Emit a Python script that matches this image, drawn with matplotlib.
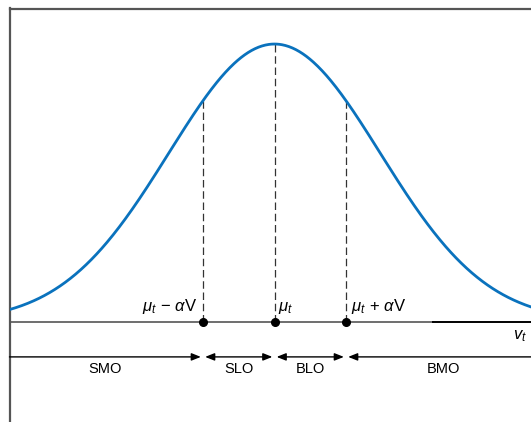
import numpy as np
import matplotlib
matplotlib.use("Agg")
import matplotlib.pyplot as plt

# distribution of v_t (units: alphaV = 1)
mu = 0.0
sigma = 1.48
alpha_v = 1.0
marks = [mu - alpha_v, mu, mu + alpha_v]
mark_labels = [r'$\mu_t\,-\,\alpha\mathrm{V}$', r'$\mu_t$', r'$\mu_t\,+\,\alpha\mathrm{V}$']
regions = ['SMO', 'SLO', 'BLO', 'BMO']

plt.rcParams['font.family'] = ['Liberation Sans', 'DejaVu Sans']
plt.rcParams['mathtext.fontset'] = 'custom'
plt.rcParams['mathtext.rm'] = 'Liberation Sans'
plt.rcParams['mathtext.it'] = 'Liberation Sans:italic'

fig = plt.figure(figsize=(5.31, 4.22), dpi=100)
ax = fig.add_axes([9.5 / 531, 0, 1 - 9.5 / 531, (422 - 8.5) / 422])

xmin, xmax = -3.706, 3.587
ax.set_xlim(xmin, xmax)
ax.set_ylim(-0.3615, 1.128)

x = np.linspace(xmin, xmax, 600)
pdf = lambda v: np.exp(-(v - mu) ** 2 / (2 * sigma ** 2))
ax.plot(x, pdf(x), color='#0a72bd', lw=2.0, zorder=3)

# baseline axis: gray part then black
split = (433 - 274.5) / 71.5
ax.plot([xmin, split], [0, 0], color='#555555', lw=1.2, zorder=2)
ax.plot([split, xmax], [0, 0], color='black', lw=1.4, zorder=2)

for m in marks:
    ax.plot([m, m], [0, pdf(m)], color='#333333', lw=0.9, ls=(0, (6, 3)), zorder=2)
ax.plot(marks, [0, 0, 0], 'o', color='black', ms=5.5, zorder=4)

ax.text(marks[0] - 0.07, 0.02, mark_labels[0], ha='right', va='bottom', fontsize=12)
ax.text(marks[1] + 0.05, 0.02, mark_labels[1], ha='left', va='bottom', fontsize=12)
ax.text(marks[2] + 0.07, 0.02, mark_labels[2], ha='left', va='bottom', fontsize=12)
ax.text(xmax - 0.06, -0.025, r'$v_t$', ha='right', va='top', fontsize=12)

# region arrows
ya = -0.127
gap = 0.03
bounds = [xmin] + marks + [xmax]
for i, name in enumerate(regions):
    a, b = bounds[i], bounds[i + 1]
    left = a + gap if i > 0 else a
    right = b - gap if i < 3 else b
    style = '<|-|>' if 0 < i < 3 else ('-|>' if i == 0 else '<|-')
    ax.annotate('', xy=(right, ya), xytext=(left, ya),
                arrowprops=dict(arrowstyle=style + ',head_length=0.55,head_width=0.22',
                                color='black', lw=1.0, shrinkA=0, shrinkB=0))
    cx = {0: (105 - 274.5) / 71.5, 3: (443 - 274.5) / 71.5}.get(i, (a + b) / 2)
    ax.text(cx, -0.17, name, ha='center', va='center', fontsize=10.5)

for s in ['right', 'bottom']:
    ax.spines[s].set_visible(False)
for s in ['left', 'top']:
    ax.spines[s].set_color('#555555')
    ax.spines[s].set_linewidth(1.6)
ax.set_xticks([])
ax.set_yticks([])

fig.savefig('out.png', dpi=100)
